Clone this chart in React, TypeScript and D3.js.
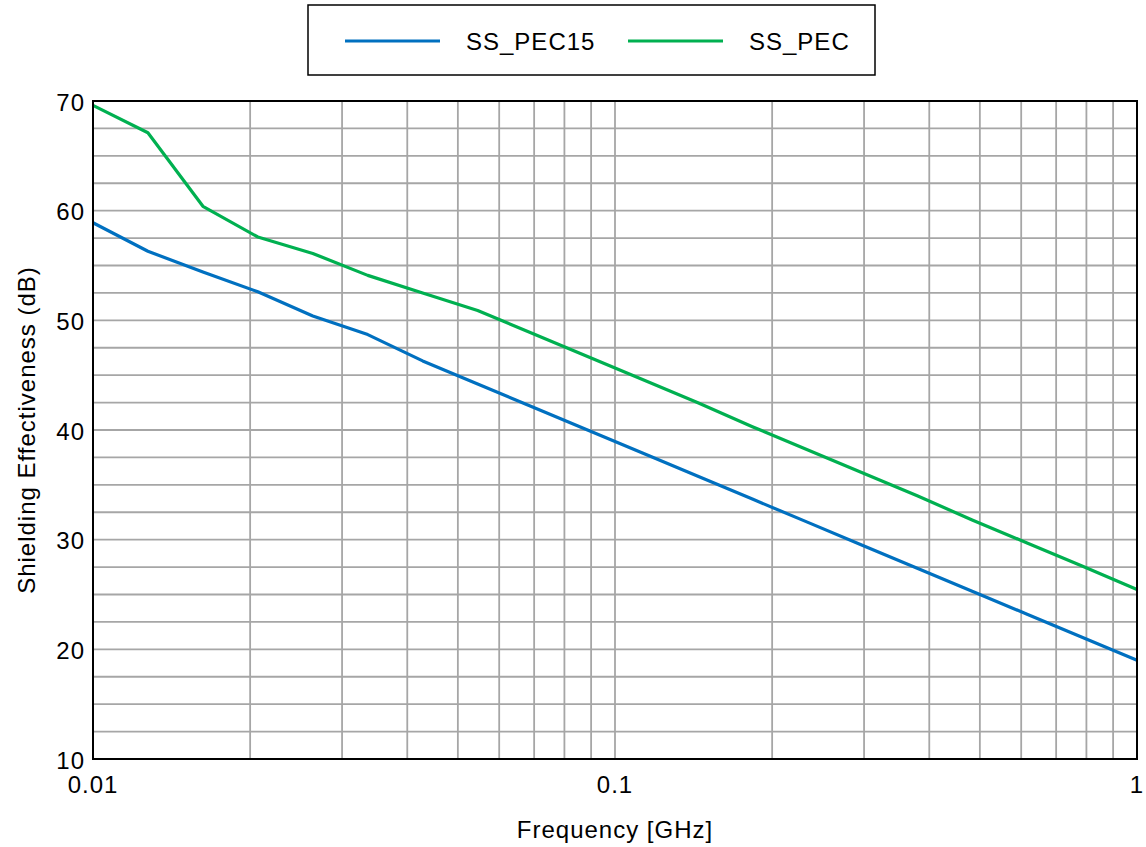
import React from 'react';
import * as d3 from 'd3';

// frequency points, GHz
const freqs = [0.01, 0.01274, 0.01624, 0.02069, 0.02637, 0.0336, 0.04281, 0.05456, 0.06952, 0.08859,
  0.1129, 0.1438, 0.1833, 0.2336, 0.2976, 0.3793, 0.4833, 0.6158, 0.7848, 1.0];
const ssPec15 = [58.9, 56.3, 54.4, 52.6, 50.4, 48.7, 46.3, 44.2, 42.1, 40.0,
  37.9, 35.8, 33.7, 31.6, 29.5, 27.4, 25.3, 23.2, 21.1, 19.0];
const ssPec = [69.6, 67.1, 60.4, 57.6, 56.1, 54.1, 52.5, 50.9, 48.8, 46.7,
  44.6, 42.5, 40.3, 38.2, 36.1, 34.0, 31.8, 29.7, 27.6, 25.45];
const seriesNames = ['SS_PEC15', 'SS_PEC'];
const seriesColors = ['#0070c0', '#00b050'];
const yTicks = [10, 20, 30, 40, 50, 60, 70];
const xTicks = [0.01, 0.1, 1];
const xTickLabels = ['0.01', '0.1', '1'];

const W = 1146, H = 847;
const m = { left: 93, right: 1137, top: 101, bottom: 759 };
const font = 'Liberation Sans, Arial, sans-serif';
const fs = 24;
const ls = 1;

export default function App() {
  const x = d3.scaleLog().domain([0.01, 1]).range([m.left, m.right]);
  const y = d3.scaleLinear().domain([10, 70]).range([m.bottom, m.top]);

  // grid: minor decades + every 2.5 dB
  const vGrid = x.ticks().filter(t => t > 0.01 && t < 1);
  const hGrid = d3.range(12.5, 70, 2.5);

  const line = d3.line<number>()
    .x((_, i) => x(freqs[i]))
    .y(d => y(d));

  const series = [ssPec15, ssPec];

  return (
    <svg width={W} height={H} style={{ position: 'absolute', left: 0, top: 0, background: '#fff' }}>
      {hGrid.map(v => (
        <line key={'h' + v} x1={m.left} x2={m.right} y1={y(v)} y2={y(v)} stroke="#a6a6a6" strokeWidth={1.8} />
      ))}
      {vGrid.map(v => (
        <line key={'v' + v} x1={x(v)} x2={x(v)} y1={m.top} y2={m.bottom} stroke="#a6a6a6" strokeWidth={1.8} />
      ))}

      {series.map((s, k) => (
        <path key={k} d={line(s) || ''} fill="none" stroke={seriesColors[k]} strokeWidth={3.2} strokeLinejoin="round" />
      ))}

      <rect x={m.left} y={m.top} width={m.right - m.left} height={m.bottom - m.top}
        fill="none" stroke="#000" strokeWidth={2} />

      {yTicks.map(v => (
        <text key={'yt' + v} x={m.left - 8} y={y(v)} dy="0.4em" textAnchor="end"
          fontFamily={font} fontSize={fs} letterSpacing={ls} fill="#000">{v}</text>
      ))}
      {xTicks.map((v, i) => (
        <text key={'xt' + v} x={x(v)} y={793} textAnchor="middle"
          fontFamily={font} fontSize={fs} letterSpacing={ls} fill="#000">{xTickLabels[i]}</text>
      ))}

      <text x={(m.left + m.right) / 2} y={838} textAnchor="middle" fontFamily={font} fontSize={fs}
        letterSpacing={ls} fill="#000">
        Frequency [GHz]
      </text>
      <text transform={`translate(35,${(m.top + m.bottom) / 2}) rotate(-90)`} textAnchor="middle"
        fontFamily={font} fontSize={fs} letterSpacing={ls} fill="#000">
        Shielding Effectiveness (dB)
      </text>

      {/* legend */}
      <rect x={308} y={5} width={567} height={70} fill="#fff" stroke="#000" strokeWidth={1.5} />
      {seriesNames.map((name, k) => {
        const x0 = 345 + k * 283;
        return (
          <g key={name}>
            <line x1={x0} x2={x0 + 95} y1={41} y2={41} stroke={seriesColors[k]} strokeWidth={3.2} />
            <text x={x0 + 121} y={50} fontFamily={font} fontSize={fs} letterSpacing={ls} fill="#000">{name}</text>
          </g>
        );
      })}
    </svg>
  );
}
